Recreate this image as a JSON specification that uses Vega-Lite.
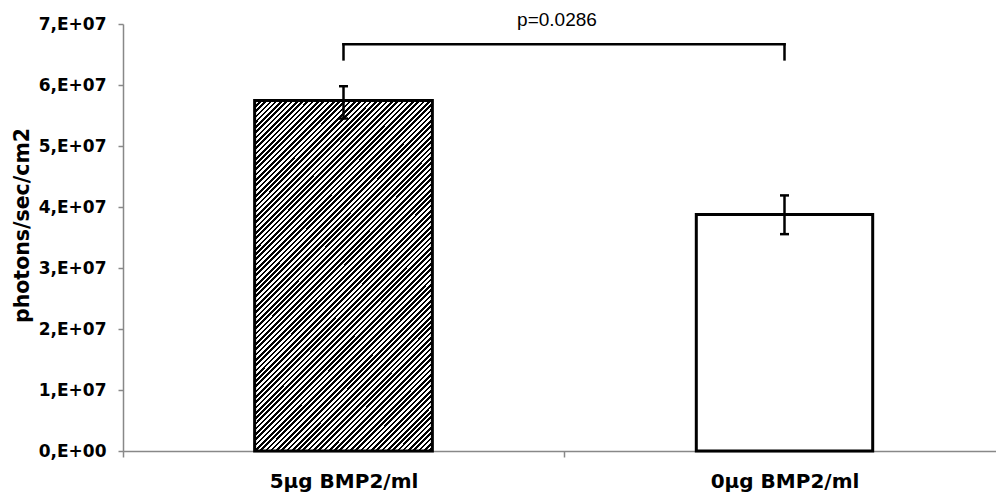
{
"$schema": "https://vega.github.io/schema/vega-lite/v6.json",
"width": 882, "height": 427,
"autosize": "none",
"padding": {"left": 123, "top": 24, "right": 0, "bottom": 41},
"background": "white",
"config": {"view": {"stroke": null}, "axis": {"grid": false}},
"data": {"values": [
 {"cond": "5µg BMP2/ml", "mean": 57450000, "lo": 54500000, "hi": 59800000},
 {"cond": "0µg BMP2/ml", "mean": 38780000, "lo": 35550000, "hi": 41900000}
]},
"layer": [
 {
  "transform": [{"filter": "datum.cond == '5µg BMP2/ml'"}],
  "mark": {"type": "bar", "width": {"band": 0.403}, "stroke": "black", "strokeWidth": 3,
   "fill": {"gradient": "linear", "x1": 0, "y1": 0, "x2": 0.61, "y2": 1.2, "stops": [
{"offset":0,"color":"#000"},{"offset":0.005,"color":"#000"},{"offset":0.005,"color":"#fff"},{"offset":0.01,"color":"#fff"},
{"offset":0.01,"color":"#000"},{"offset":0.015,"color":"#000"},{"offset":0.015,"color":"#fff"},{"offset":0.02,"color":"#fff"},
{"offset":0.02,"color":"#000"},{"offset":0.025,"color":"#000"},{"offset":0.025,"color":"#fff"},{"offset":0.03,"color":"#fff"},
{"offset":0.03,"color":"#000"},{"offset":0.035,"color":"#000"},{"offset":0.035,"color":"#fff"},{"offset":0.04,"color":"#fff"},
{"offset":0.04,"color":"#000"},{"offset":0.045,"color":"#000"},{"offset":0.045,"color":"#fff"},{"offset":0.05,"color":"#fff"},
{"offset":0.05,"color":"#000"},{"offset":0.055,"color":"#000"},{"offset":0.055,"color":"#fff"},{"offset":0.06,"color":"#fff"},
{"offset":0.06,"color":"#000"},{"offset":0.065,"color":"#000"},{"offset":0.065,"color":"#fff"},{"offset":0.07,"color":"#fff"},
{"offset":0.07,"color":"#000"},{"offset":0.075,"color":"#000"},{"offset":0.075,"color":"#fff"},{"offset":0.08,"color":"#fff"},
{"offset":0.08,"color":"#000"},{"offset":0.085,"color":"#000"},{"offset":0.085,"color":"#fff"},{"offset":0.09,"color":"#fff"},
{"offset":0.09,"color":"#000"},{"offset":0.095,"color":"#000"},{"offset":0.095,"color":"#fff"},{"offset":0.1,"color":"#fff"},
{"offset":0.1,"color":"#000"},{"offset":0.105,"color":"#000"},{"offset":0.105,"color":"#fff"},{"offset":0.11,"color":"#fff"},
{"offset":0.11,"color":"#000"},{"offset":0.115,"color":"#000"},{"offset":0.115,"color":"#fff"},{"offset":0.12,"color":"#fff"},
{"offset":0.12,"color":"#000"},{"offset":0.125,"color":"#000"},{"offset":0.125,"color":"#fff"},{"offset":0.13,"color":"#fff"},
{"offset":0.13,"color":"#000"},{"offset":0.135,"color":"#000"},{"offset":0.135,"color":"#fff"},{"offset":0.14,"color":"#fff"},
{"offset":0.14,"color":"#000"},{"offset":0.145,"color":"#000"},{"offset":0.145,"color":"#fff"},{"offset":0.15,"color":"#fff"},
{"offset":0.15,"color":"#000"},{"offset":0.155,"color":"#000"},{"offset":0.155,"color":"#fff"},{"offset":0.16,"color":"#fff"},
{"offset":0.16,"color":"#000"},{"offset":0.165,"color":"#000"},{"offset":0.165,"color":"#fff"},{"offset":0.17,"color":"#fff"},
{"offset":0.17,"color":"#000"},{"offset":0.175,"color":"#000"},{"offset":0.175,"color":"#fff"},{"offset":0.18,"color":"#fff"},
{"offset":0.18,"color":"#000"},{"offset":0.185,"color":"#000"},{"offset":0.185,"color":"#fff"},{"offset":0.19,"color":"#fff"},
{"offset":0.19,"color":"#000"},{"offset":0.195,"color":"#000"},{"offset":0.195,"color":"#fff"},{"offset":0.2,"color":"#fff"},
{"offset":0.2,"color":"#000"},{"offset":0.205,"color":"#000"},{"offset":0.205,"color":"#fff"},{"offset":0.21,"color":"#fff"},
{"offset":0.21,"color":"#000"},{"offset":0.215,"color":"#000"},{"offset":0.215,"color":"#fff"},{"offset":0.22,"color":"#fff"},
{"offset":0.22,"color":"#000"},{"offset":0.225,"color":"#000"},{"offset":0.225,"color":"#fff"},{"offset":0.23,"color":"#fff"},
{"offset":0.23,"color":"#000"},{"offset":0.235,"color":"#000"},{"offset":0.235,"color":"#fff"},{"offset":0.24,"color":"#fff"},
{"offset":0.24,"color":"#000"},{"offset":0.245,"color":"#000"},{"offset":0.245,"color":"#fff"},{"offset":0.25,"color":"#fff"},
{"offset":0.25,"color":"#000"},{"offset":0.255,"color":"#000"},{"offset":0.255,"color":"#fff"},{"offset":0.26,"color":"#fff"},
{"offset":0.26,"color":"#000"},{"offset":0.265,"color":"#000"},{"offset":0.265,"color":"#fff"},{"offset":0.27,"color":"#fff"},
{"offset":0.27,"color":"#000"},{"offset":0.275,"color":"#000"},{"offset":0.275,"color":"#fff"},{"offset":0.28,"color":"#fff"},
{"offset":0.28,"color":"#000"},{"offset":0.285,"color":"#000"},{"offset":0.285,"color":"#fff"},{"offset":0.29,"color":"#fff"},
{"offset":0.29,"color":"#000"},{"offset":0.295,"color":"#000"},{"offset":0.295,"color":"#fff"},{"offset":0.3,"color":"#fff"},
{"offset":0.3,"color":"#000"},{"offset":0.305,"color":"#000"},{"offset":0.305,"color":"#fff"},{"offset":0.31,"color":"#fff"},
{"offset":0.31,"color":"#000"},{"offset":0.315,"color":"#000"},{"offset":0.315,"color":"#fff"},{"offset":0.32,"color":"#fff"},
{"offset":0.32,"color":"#000"},{"offset":0.325,"color":"#000"},{"offset":0.325,"color":"#fff"},{"offset":0.33,"color":"#fff"},
{"offset":0.33,"color":"#000"},{"offset":0.335,"color":"#000"},{"offset":0.335,"color":"#fff"},{"offset":0.34,"color":"#fff"},
{"offset":0.34,"color":"#000"},{"offset":0.345,"color":"#000"},{"offset":0.345,"color":"#fff"},{"offset":0.35,"color":"#fff"},
{"offset":0.35,"color":"#000"},{"offset":0.355,"color":"#000"},{"offset":0.355,"color":"#fff"},{"offset":0.36,"color":"#fff"},
{"offset":0.36,"color":"#000"},{"offset":0.365,"color":"#000"},{"offset":0.365,"color":"#fff"},{"offset":0.37,"color":"#fff"},
{"offset":0.37,"color":"#000"},{"offset":0.375,"color":"#000"},{"offset":0.375,"color":"#fff"},{"offset":0.38,"color":"#fff"},
{"offset":0.38,"color":"#000"},{"offset":0.385,"color":"#000"},{"offset":0.385,"color":"#fff"},{"offset":0.39,"color":"#fff"},
{"offset":0.39,"color":"#000"},{"offset":0.395,"color":"#000"},{"offset":0.395,"color":"#fff"},{"offset":0.4,"color":"#fff"},
{"offset":0.4,"color":"#000"},{"offset":0.405,"color":"#000"},{"offset":0.405,"color":"#fff"},{"offset":0.41,"color":"#fff"},
{"offset":0.41,"color":"#000"},{"offset":0.415,"color":"#000"},{"offset":0.415,"color":"#fff"},{"offset":0.42,"color":"#fff"},
{"offset":0.42,"color":"#000"},{"offset":0.425,"color":"#000"},{"offset":0.425,"color":"#fff"},{"offset":0.43,"color":"#fff"},
{"offset":0.43,"color":"#000"},{"offset":0.435,"color":"#000"},{"offset":0.435,"color":"#fff"},{"offset":0.44,"color":"#fff"},
{"offset":0.44,"color":"#000"},{"offset":0.445,"color":"#000"},{"offset":0.445,"color":"#fff"},{"offset":0.45,"color":"#fff"},
{"offset":0.45,"color":"#000"},{"offset":0.455,"color":"#000"},{"offset":0.455,"color":"#fff"},{"offset":0.46,"color":"#fff"},
{"offset":0.46,"color":"#000"},{"offset":0.465,"color":"#000"},{"offset":0.465,"color":"#fff"},{"offset":0.47,"color":"#fff"},
{"offset":0.47,"color":"#000"},{"offset":0.475,"color":"#000"},{"offset":0.475,"color":"#fff"},{"offset":0.48,"color":"#fff"},
{"offset":0.48,"color":"#000"},{"offset":0.485,"color":"#000"},{"offset":0.485,"color":"#fff"},{"offset":0.49,"color":"#fff"},
{"offset":0.49,"color":"#000"},{"offset":0.495,"color":"#000"},{"offset":0.495,"color":"#fff"},{"offset":0.5,"color":"#fff"},
{"offset":0.5,"color":"#000"},{"offset":0.505,"color":"#000"},{"offset":0.505,"color":"#fff"},{"offset":0.51,"color":"#fff"},
{"offset":0.51,"color":"#000"},{"offset":0.515,"color":"#000"},{"offset":0.515,"color":"#fff"},{"offset":0.52,"color":"#fff"},
{"offset":0.52,"color":"#000"},{"offset":0.525,"color":"#000"},{"offset":0.525,"color":"#fff"},{"offset":0.53,"color":"#fff"},
{"offset":0.53,"color":"#000"},{"offset":0.535,"color":"#000"},{"offset":0.535,"color":"#fff"},{"offset":0.54,"color":"#fff"},
{"offset":0.54,"color":"#000"},{"offset":0.545,"color":"#000"},{"offset":0.545,"color":"#fff"},{"offset":0.55,"color":"#fff"},
{"offset":0.55,"color":"#000"},{"offset":0.555,"color":"#000"},{"offset":0.555,"color":"#fff"},{"offset":0.56,"color":"#fff"},
{"offset":0.56,"color":"#000"},{"offset":0.565,"color":"#000"},{"offset":0.565,"color":"#fff"},{"offset":0.57,"color":"#fff"},
{"offset":0.57,"color":"#000"},{"offset":0.575,"color":"#000"},{"offset":0.575,"color":"#fff"},{"offset":0.58,"color":"#fff"},
{"offset":0.58,"color":"#000"},{"offset":0.585,"color":"#000"},{"offset":0.585,"color":"#fff"},{"offset":0.59,"color":"#fff"},
{"offset":0.59,"color":"#000"},{"offset":0.595,"color":"#000"},{"offset":0.595,"color":"#fff"},{"offset":0.6,"color":"#fff"},
{"offset":0.6,"color":"#000"},{"offset":0.605,"color":"#000"},{"offset":0.605,"color":"#fff"},{"offset":0.61,"color":"#fff"},
{"offset":0.61,"color":"#000"},{"offset":0.615,"color":"#000"},{"offset":0.615,"color":"#fff"},{"offset":0.62,"color":"#fff"},
{"offset":0.62,"color":"#000"},{"offset":0.625,"color":"#000"},{"offset":0.625,"color":"#fff"},{"offset":0.63,"color":"#fff"},
{"offset":0.63,"color":"#000"},{"offset":0.635,"color":"#000"},{"offset":0.635,"color":"#fff"},{"offset":0.64,"color":"#fff"},
{"offset":0.64,"color":"#000"},{"offset":0.645,"color":"#000"},{"offset":0.645,"color":"#fff"},{"offset":0.65,"color":"#fff"},
{"offset":0.65,"color":"#000"},{"offset":0.655,"color":"#000"},{"offset":0.655,"color":"#fff"},{"offset":0.66,"color":"#fff"},
{"offset":0.66,"color":"#000"},{"offset":0.665,"color":"#000"},{"offset":0.665,"color":"#fff"},{"offset":0.67,"color":"#fff"},
{"offset":0.67,"color":"#000"},{"offset":0.675,"color":"#000"},{"offset":0.675,"color":"#fff"},{"offset":0.68,"color":"#fff"},
{"offset":0.68,"color":"#000"},{"offset":0.685,"color":"#000"},{"offset":0.685,"color":"#fff"},{"offset":0.69,"color":"#fff"},
{"offset":0.69,"color":"#000"},{"offset":0.695,"color":"#000"},{"offset":0.695,"color":"#fff"},{"offset":0.7,"color":"#fff"},
{"offset":0.7,"color":"#000"},{"offset":0.705,"color":"#000"},{"offset":0.705,"color":"#fff"},{"offset":0.71,"color":"#fff"},
{"offset":0.71,"color":"#000"},{"offset":0.715,"color":"#000"},{"offset":0.715,"color":"#fff"},{"offset":0.72,"color":"#fff"},
{"offset":0.72,"color":"#000"},{"offset":0.725,"color":"#000"},{"offset":0.725,"color":"#fff"},{"offset":0.73,"color":"#fff"},
{"offset":0.73,"color":"#000"},{"offset":0.735,"color":"#000"},{"offset":0.735,"color":"#fff"},{"offset":0.74,"color":"#fff"},
{"offset":0.74,"color":"#000"},{"offset":0.745,"color":"#000"},{"offset":0.745,"color":"#fff"},{"offset":0.75,"color":"#fff"},
{"offset":0.75,"color":"#000"},{"offset":0.755,"color":"#000"},{"offset":0.755,"color":"#fff"},{"offset":0.76,"color":"#fff"},
{"offset":0.76,"color":"#000"},{"offset":0.765,"color":"#000"},{"offset":0.765,"color":"#fff"},{"offset":0.77,"color":"#fff"},
{"offset":0.77,"color":"#000"},{"offset":0.775,"color":"#000"},{"offset":0.775,"color":"#fff"},{"offset":0.78,"color":"#fff"},
{"offset":0.78,"color":"#000"},{"offset":0.785,"color":"#000"},{"offset":0.785,"color":"#fff"},{"offset":0.79,"color":"#fff"},
{"offset":0.79,"color":"#000"},{"offset":0.795,"color":"#000"},{"offset":0.795,"color":"#fff"},{"offset":0.8,"color":"#fff"},
{"offset":0.8,"color":"#000"},{"offset":0.805,"color":"#000"},{"offset":0.805,"color":"#fff"},{"offset":0.81,"color":"#fff"},
{"offset":0.81,"color":"#000"},{"offset":0.815,"color":"#000"},{"offset":0.815,"color":"#fff"},{"offset":0.82,"color":"#fff"},
{"offset":0.82,"color":"#000"},{"offset":0.825,"color":"#000"},{"offset":0.825,"color":"#fff"},{"offset":0.83,"color":"#fff"},
{"offset":0.83,"color":"#000"},{"offset":0.835,"color":"#000"},{"offset":0.835,"color":"#fff"},{"offset":0.84,"color":"#fff"},
{"offset":0.84,"color":"#000"},{"offset":0.845,"color":"#000"},{"offset":0.845,"color":"#fff"},{"offset":0.85,"color":"#fff"},
{"offset":0.85,"color":"#000"},{"offset":0.855,"color":"#000"},{"offset":0.855,"color":"#fff"},{"offset":0.86,"color":"#fff"},
{"offset":0.86,"color":"#000"},{"offset":0.865,"color":"#000"},{"offset":0.865,"color":"#fff"},{"offset":0.87,"color":"#fff"},
{"offset":0.87,"color":"#000"},{"offset":0.875,"color":"#000"},{"offset":0.875,"color":"#fff"},{"offset":0.88,"color":"#fff"},
{"offset":0.88,"color":"#000"},{"offset":0.885,"color":"#000"},{"offset":0.885,"color":"#fff"},{"offset":0.89,"color":"#fff"},
{"offset":0.89,"color":"#000"},{"offset":0.895,"color":"#000"},{"offset":0.895,"color":"#fff"},{"offset":0.9,"color":"#fff"},
{"offset":0.9,"color":"#000"},{"offset":0.905,"color":"#000"},{"offset":0.905,"color":"#fff"},{"offset":0.91,"color":"#fff"},
{"offset":0.91,"color":"#000"},{"offset":0.915,"color":"#000"},{"offset":0.915,"color":"#fff"},{"offset":0.92,"color":"#fff"},
{"offset":0.92,"color":"#000"},{"offset":0.925,"color":"#000"},{"offset":0.925,"color":"#fff"},{"offset":0.93,"color":"#fff"},
{"offset":0.93,"color":"#000"},{"offset":0.935,"color":"#000"},{"offset":0.935,"color":"#fff"},{"offset":0.94,"color":"#fff"},
{"offset":0.94,"color":"#000"},{"offset":0.945,"color":"#000"},{"offset":0.945,"color":"#fff"},{"offset":0.95,"color":"#fff"},
{"offset":0.95,"color":"#000"},{"offset":0.955,"color":"#000"},{"offset":0.955,"color":"#fff"},{"offset":0.96,"color":"#fff"},
{"offset":0.96,"color":"#000"},{"offset":0.965,"color":"#000"},{"offset":0.965,"color":"#fff"},{"offset":0.97,"color":"#fff"},
{"offset":0.97,"color":"#000"},{"offset":0.975,"color":"#000"},{"offset":0.975,"color":"#fff"},{"offset":0.98,"color":"#fff"},
{"offset":0.98,"color":"#000"},{"offset":0.985,"color":"#000"},{"offset":0.985,"color":"#fff"},{"offset":0.99,"color":"#fff"},
{"offset":0.99,"color":"#000"},{"offset":0.995,"color":"#000"},{"offset":0.995,"color":"#fff"},{"offset":1,"color":"#fff"}
   ]}},
  "encoding": {
   "x": {"field": "cond", "type": "nominal", "sort": null,
    "scale": {"domain": ["5µg BMP2/ml", "0µg BMP2/ml"], "paddingInner": 0, "paddingOuter": 0},
    "axis": {"title": null, "tickBand": "extent", "labelAngle": 0, "labelFont": "DejaVu Sans", "labelFontWeight": "bold", "labelFontSize": 20, "labelColor": "black", "labelPadding": 14, "tickSize": 6, "tickColor": "#888", "tickWidth": 1.5, "domainColor": "#888", "domainWidth": 1.5}},
   "y": {"field": "mean", "type": "quantitative", "title": "photons/sec/cm2",
    "scale": {"domain": [0, 70000000], "nice": false},
    "axis": {"values": [0, 10000000, 20000000, 30000000, 40000000, 50000000, 60000000, 70000000],
     "labelExpr": "datum.value == 0 ? '0,E+00' : format(datum.value / 10000000, 'd') + ',E+07'",
     "labelFont": "DejaVu Sans", "labelFontWeight": "bold", "labelFontSize": 17, "labelColor": "black", "labelPadding": 12,
     "tickSize": 5, "tickColor": "#888", "tickWidth": 1.5, "domainColor": "#888", "domainWidth": 1.5,
     "titleFont": "DejaVu Sans", "titleFontWeight": "bold", "titleFontSize": 20.5, "titleColor": "black", "titlePadding": 6, "titleY": 201}}
  }
 },
 {
  "transform": [{"filter": "datum.cond == '0µg BMP2/ml'"}],
  "mark": {"type": "bar", "width": {"band": 0.4}, "stroke": "black", "strokeWidth": 3, "fill": "white"},
  "encoding": {
   "x": {"field": "cond", "type": "nominal", "sort": null},
   "y": {"field": "mean", "type": "quantitative", "title": "photons/sec/cm2"}
  }
 },
 {
  "mark": {"type": "rule", "stroke": "black", "strokeWidth": 2.5},
  "encoding": {
   "x": {"field": "cond", "type": "nominal", "sort": null},
   "y": {"field": "lo", "type": "quantitative", "title": "photons/sec/cm2"},
   "y2": {"field": "hi"}
  }
 },
 {
  "mark": {"type": "tick", "color": "black", "size": 9, "thickness": 2.5, "opacity": 1},
  "encoding": {
   "x": {"field": "cond", "type": "nominal", "sort": null},
   "y": {"field": "lo", "type": "quantitative", "title": "photons/sec/cm2"}
  }
 },
 {
  "mark": {"type": "tick", "color": "black", "size": 9, "thickness": 2.5, "opacity": 1},
  "encoding": {
   "x": {"field": "cond", "type": "nominal", "sort": null},
   "y": {"field": "hi", "type": "quantitative", "title": "photons/sec/cm2"}
  }
 },
 {
  "data": {"values": [{"a": "5µg BMP2/ml", "b": "0µg BMP2/ml", "by": 66670000}]},
  "mark": {"type": "rule", "stroke": "black", "strokeWidth": 2.5, "strokeCap": "square"},
  "encoding": {
   "x": {"field": "a", "type": "nominal", "sort": null},
   "x2": {"field": "b"},
   "y": {"field": "by", "type": "quantitative", "title": "photons/sec/cm2"}
  }
 },
 {
  "data": {"values": [{"c": "5µg BMP2/ml", "t1": 66670000, "t2": 64200000}, {"c": "0µg BMP2/ml", "t1": 66670000, "t2": 64200000}]},
  "mark": {"type": "rule", "stroke": "black", "strokeWidth": 2.5, "strokeCap": "square"},
  "encoding": {
   "x": {"field": "c", "type": "nominal", "sort": null},
   "y": {"field": "t1", "type": "quantitative", "title": "photons/sec/cm2"},
   "y2": {"field": "t2"}
  }
 },
 {
  "data": {"values": [{"c": "5µg BMP2/ml", "py": 70650000, "label": "p=0.0286"}]},
  "mark": {"type": "text", "font": "Liberation Sans", "fontSize": 19, "color": "black", "align": "center", "baseline": "middle", "dx": -7},
  "encoding": {
   "x": {"field": "c", "type": "nominal", "sort": null, "bandPosition": 1},
   "y": {"field": "py", "type": "quantitative", "title": "photons/sec/cm2"},
   "text": {"field": "label"}
  }
 }
]
}
